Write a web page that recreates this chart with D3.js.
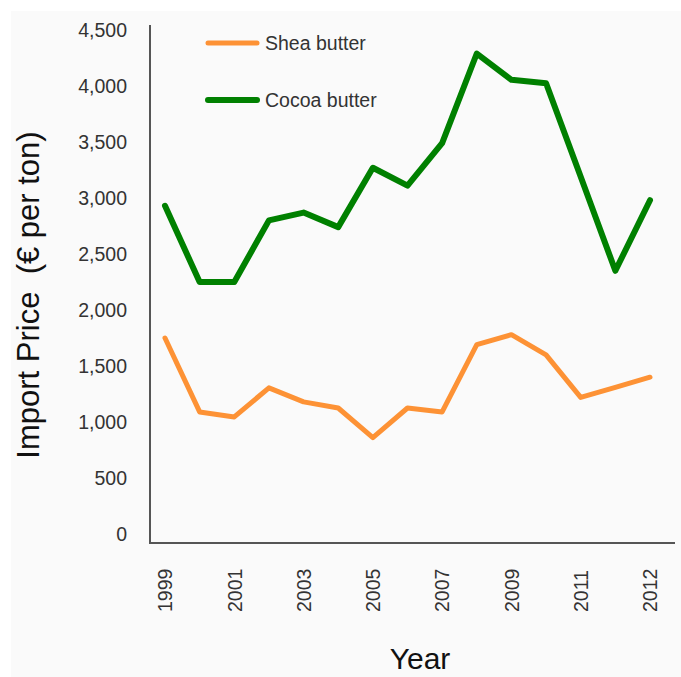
<!DOCTYPE html>
<html>
<head>
  <meta charset="utf8">
  <style>
    body { margin: 0; background: #fff; font-family: "Liberation Sans", Arial, sans-serif; }
    .tick text { fill: #333; }
  </style>
</head>
<body>
<script src="https://cdnjs.cloudflare.com/ajax/libs/d3/7.8.5/d3.min.js"></script>
<script>
var width = 681, height = 677;

// data (15 categories, only every other one labelled)
var categories = ['1999', '2000', '2001', '2002', '2003', '2004', '2005', '2006',
                  '2007', '2008', '2009', '2010', '2011', '', '2012'];
var xTickLabels = ['1999', '2001', '2003', '2005', '2007', '2009', '2011', '2012'];
var shea  = [1750, 1090, 1045, 1305, 1180, 1125, 860, 1125, 1090, 1690, 1780, 1600, 1220, 1310, 1400];
var cocoa = [2930, 2250, 2250, 2800, 2870, 2740, 3270, 3110, 3490, 4290, 4055, 4025, 3190, 2350, 2980];
var yTicks = [0, 500, 1000, 1500, 2000, 2500, 3000, 3500, 4000, 4500];
var seriesNames = ['Shea butter', 'Cocoa butter'];

var svg = d3.select('body').append('svg')
    .attr('width', width)
    .attr('height', height);

svg.append('rect')
  .attr('x', 11).attr('y', 11)
  .attr('width', width - 11).attr('height', height - 11)
  .attr('fill', '#fafafa');

var x = d3.scalePoint().domain(categories).range([165, 650]);
var y = d3.scaleLinear().domain([0, 4500]).range([534, 30]);

var tickFont = '19.5px';

// y axis labels
var yAxis = d3.axisLeft(y).tickValues(yTicks).tickSize(0).tickPadding(0)
  .tickFormat(d3.format(','));
svg.append('g')
  .attr('transform', 'translate(127,0)')
  .call(yAxis)
  .call(function(g) { g.select('.domain').remove(); })
  .selectAll('text')
  .style('font-size', tickFont)
  .style('font-family', '"Liberation Sans", Arial, sans-serif');

// x axis labels
var xAxis = d3.axisBottom(x).tickValues(xTickLabels).tickSize(0);
svg.append('g')
  .attr('transform', 'translate(0,612)')
  .call(xAxis)
  .call(function(g) { g.select('.domain').remove(); })
  .selectAll('text')
  .attr('transform', 'rotate(-90)')
  .attr('x', 0).attr('y', 0).attr('dy', '0.35em')
  .style('text-anchor', 'start')
  .style('font-size', tickFont)
  .style('font-family', '"Liberation Sans", Arial, sans-serif');

// axis lines
svg.append('path')
  .attr('d', 'M150,25V543H675')
  .attr('fill', 'none')
  .attr('stroke', '#555')
  .attr('stroke-width', 2);

var line = d3.line()
  .x(function(d, i) { return x(categories[i]); })
  .y(function(d) { return y(d); });

var colors = ['#fd9235', '#008000'];
var widths = [5, 6];

[shea, cocoa].forEach(function(s, i) {
  svg.append('path')
    .datum(s)
    .attr('d', line)
    .attr('fill', 'none')
    .attr('stroke', colors[i])
    .attr('stroke-width', widths[i])
    .attr('stroke-linejoin', 'round')
    .attr('stroke-linecap', 'round');
});

// legend
var legend = svg.append('g').selectAll('g')
  .data(seriesNames)
  .enter().append('g')
  .attr('transform', function(d, i) { return 'translate(208,' + (43 + i * 57) + ')'; });

legend.append('line')
  .attr('x1', 0).attr('x2', 49)
  .attr('stroke', function(d, i) { return colors[i]; })
  .attr('stroke-width', function(d, i) { return widths[i]; })
  .attr('stroke-linecap', 'round');

legend.append('text')
  .attr('x', 57).attr('dy', '0.35em')
  .style('font-size', tickFont)
  .style('fill', '#333')
  .text(function(d) { return d; });

// axis titles
svg.append('text')
  .attr('transform', 'translate(39,295) rotate(-90)')
  .attr('text-anchor', 'middle')
  .style('font-size', '31px')
  .style('fill', '#111')
  .text('Import Price \u00a0(\u20ac per ton)');

svg.append('text')
  .attr('x', 420).attr('y', 669)
  .attr('text-anchor', 'middle')
  .style('font-size', '30px')
  .style('fill', '#111')
  .text('Year');
</script>
</body>
</html>
